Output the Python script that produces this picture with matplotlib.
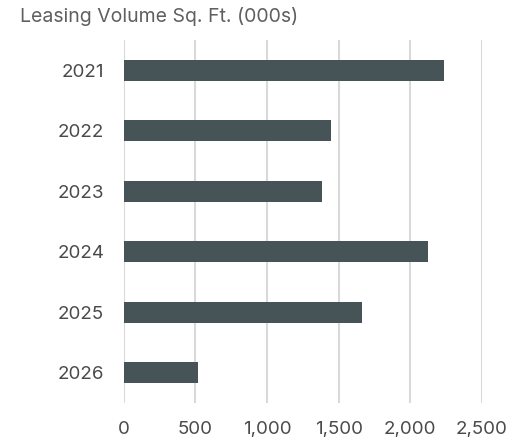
import matplotlib
matplotlib.use("Agg")
import matplotlib.pyplot as plt
from matplotlib.ticker import FuncFormatter

years = ["2021", "2022", "2023", "2024", "2025", "2026"]
volume = [2233, 1444, 1386, 2121, 1663, 516]
x_ticks = [0, 500, 1000, 1500, 2000, 2500]
title = "Leasing Volume Sq. Ft. (000s)"

plt.rcParams['font.family'] = ['Inter', 'DejaVu Sans']

fig = plt.figure(figsize=(5.10, 4.46), dpi=100)
ax = fig.add_axes([0.2425, 0.0964, 0.7025, 0.8139])

ax.barh(range(len(years)), volume, height=0.355, color="#465357", zorder=3)
ax.set_ylim(len(years) - 0.5, -0.5)
ax.set_xlim(0, 2500)
ax.set_yticks(range(len(years)))
ax.set_yticklabels(years)
ax.set_xticks(x_ticks)
ax.xaxis.set_major_formatter(FuncFormatter(lambda v, p: f"{int(v):,}"))
ax.grid(axis="x", color="#d9d9d9", linewidth=1.5, zorder=0)
for s in ax.spines.values():
    s.set_visible(False)
ax.tick_params(axis="both", length=0, labelsize=13.5, labelcolor="#4a4a4a")
ax.tick_params(axis="y", pad=14)
ax.tick_params(axis="x", pad=13)

fig.text(20 / 510, 1 - 17 / 446, title, fontsize=14, color="#5f5f5f", ha="left", va="center")

fig.savefig("out.png", dpi=100)
